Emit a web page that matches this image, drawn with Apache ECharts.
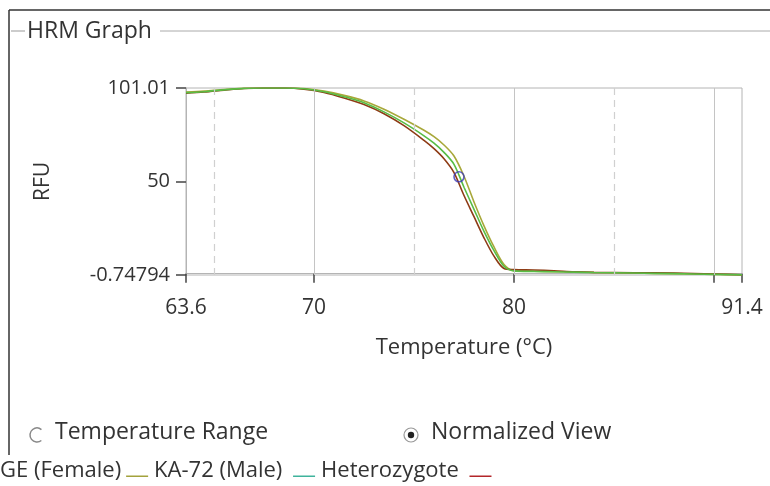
<!DOCTYPE html>
<html>
<head>
<meta charset="utf-8">
<title>HRM Graph</title>
<script src="https://cdn.jsdelivr.net/npm/echarts@6/dist/echarts.min.js"></script>
<style>
  html, body { margin: 0; padding: 0; background: #fff; }
  #chart { width: 770px; height: 486px; }
</style>
</head>
<body>
<div id="chart"></div>
<script>
// temperature (°C) samples shared by all three melt curves
const temps = [63.6, 64.5, 65.5, 66.5, 67.5, 68.5, 69.5, 70.5, 71.5, 72.5, 73.5, 74.5, 75.5, 76, 76.5, 77, 77.5, 78, 78.5, 79, 79.5, 80, 81, 82, 83, 84, 86, 88, 90, 91.4]

// normalized RFU per sample
const geFemale = [98.8, 99.3, 100.2, 100.9, 101.0, 101.0, 100.7, 99.3, 97.0, 94.0, 89.5, 84.0, 78.0, 74.5, 70.0, 64.0, 53, 39, 26, 14.5, 5, 1.6, 1.3, 1.1, 0.9, 0.6, 0.3, 0, -0.4, -0.7]
const ka72Male = [98.5, 99.0, 100.0, 100.8, 101.0, 101.0, 100.6, 99.0, 96.3, 93.0, 88.0, 82.0, 75.0, 71.0, 66.0, 59.5, 47, 35, 23, 12.5, 4, 1.5, 1.2, 1.0, 0.8, 0.6, 0.3, 0, -0.4, -0.7]
const heterozygote = [98.2, 98.8, 99.8, 100.7, 101.0, 101.0, 100.4, 98.6, 95.6, 92.0, 87.0, 80.5, 72.5, 68.0, 62.5, 55.0, 42.5, 31, 19.5, 9.5, 2.8, 2.2, 2.0, 1.6, 1.0, 0.7, 0.5, 0.3, -0.2, -0.7]

// selected point (blue circle)
const cursorPoint = [77.25, 52.7]

// axis ticks / labels
const yTicks = [-0.74794, 50, 101.01]
const xLabels = [63.6, 70, 80, 91.4]
const xTicks = [63.6, 70, 80, 90, 91.4]
const solidGrid = [70, 80, 90]
const dashedGrid = [65, 75, 85]

const THEME = {
  text: '#333', grid: '#c4c4c4', dashed: '#d0d0d0', border: '#b4b4b4',
  ge: '#a8a83a', ka: '#58bd45', het: '#8e3c16',
  geLegend: '#a3a23c', kaLegend: '#3fb39c', hetLegend: '#b3262a',
  font: '"Open Sans", "Noto Sans", sans-serif'
}

// legend icon: a short rule sitting low, like an underscore
const LEGEND_RULE = 'path://M0,0 L22,0 L22,0.001 Z M0,10.5 L22,10.5 L22,12 L0,12 Z'

const zip = (xs, ys) => xs.map((x, i) => [x, ys[i]])

const chart = echarts.init(document.getElementById('chart'), null, { renderer: 'canvas' })

const lineSeries = (name, values, color) => ({
  name,
  type: 'line',
  data: zip(temps, values),
  showSymbol: false,
  smooth: 0.3,
  lineStyle: { color, width: 1.6 },
  itemStyle: { color },
  silent: true,
  z: 3
})

const option = {
  backgroundColor: '#fff',
  animation: false,
  textStyle: { fontFamily: THEME.font },
  title: {
    text: 'HRM Graph',
    left: 27,
    top: 20,
    padding: 0,
    textStyle: { color: THEME.text, fontSize: 23, fontWeight: 'normal', fontFamily: THEME.font }
  },
  graphic: [
    // outer frame
    { type: 'line', shape: { x1: 9, y1: 10, x2: 770, y2: 10 }, style: { stroke: '#333', lineWidth: 1.5 } },
    { type: 'line', shape: { x1: 9, y1: 10, x2: 9, y2: 455 }, style: { stroke: '#333', lineWidth: 1.5 } },
    // group box rule
    { type: 'line', shape: { x1: 11, y1: 31, x2: 25, y2: 31 }, style: { stroke: '#999', lineWidth: 1 } },
    { type: 'line', shape: { x1: 160, y1: 31, x2: 770, y2: 31 }, style: { stroke: '#aaa', lineWidth: 1 } },
    // radio buttons
    { type: 'arc', shape: { cx: 37, cy: 435, r: 7, startAngle: 0.9, endAngle: 5.4 }, style: { stroke: '#888', fill: 'none', lineWidth: 1.5 } },
    { type: 'text', left: 55, top: 421, style: { text: 'Temperature Range', fill: THEME.text, font: '23px ' + THEME.font } },
    { type: 'circle', shape: { cx: 411, cy: 435, r: 7 }, style: { stroke: '#999', fill: '#fff', lineWidth: 1.2 } },
    { type: 'circle', shape: { cx: 411, cy: 435, r: 3.2 }, style: { fill: '#222' } },
    { type: 'text', left: 431, top: 421, style: { text: 'Normalized View', fill: THEME.text, font: '23px ' + THEME.font } }
  ],
  legend: {
    left: 0,
    top: 460,
    padding: 0,
    align: 'right',
    icon: LEGEND_RULE,
    itemWidth: 22,
    itemHeight: 12,
    itemGap: 6,
    selectedMode: false,
    textStyle: { color: THEME.text, fontSize: 22, lineHeight: 22, fontFamily: THEME.font },
    data: [
      { name: 'GE (Female)', itemStyle: { color: THEME.geLegend } },
      { name: 'KA-72 (Male) ', itemStyle: { color: THEME.kaLegend } },
      { name: 'Heterozygote ', itemStyle: { color: THEME.hetLegend } }
    ]
  },
  grid: {
    left: 186, right: 28, top: 88, bottom: 211,
    show: true, borderColor: THEME.border, borderWidth: 1, backgroundColor: '#fff'
  },
  xAxis: {
    type: 'value',
    min: 63.6,
    max: 91.4,
    name: 'Temperature (°C)',
    nameLocation: 'middle',
    nameGap: 62,
    nameTextStyle: { color: THEME.text, fontSize: 22, fontFamily: THEME.font },
    axisLine: { lineStyle: { color: THEME.border } },
    axisTick: { show: true, length: 9, customValues: xTicks, lineStyle: { color: '#444', width: 1.5 } },
    axisLabel: { customValues: xLabels, margin: 23, color: THEME.text, fontSize: 21, fontFamily: THEME.font, formatter: v => String(v) },
    splitLine: { show: false }
  },
  yAxis: {
    type: 'value',
    min: -0.74794,
    max: 101.01,
    name: 'RFU',
    nameLocation: 'middle',
    nameGap: 132,
    nameTextStyle: { color: THEME.text, fontSize: 21, fontFamily: THEME.font },
    axisLine: { show: true, lineStyle: { color: THEME.border } },
    axisTick: { show: true, length: 10, customValues: yTicks, lineStyle: { color: '#444', width: 1.5 } },
    axisLabel: { customValues: yTicks, margin: 16, color: THEME.text, fontSize: 20, fontFamily: THEME.font, formatter: v => String(v) },
    splitLine: { show: false }
  },
  series: [
    {
      name: 'grid',
      type: 'line',
      data: [],
      silent: true,
      z: 1,
      markLine: {
        silent: true,
        symbol: 'none',
        label: { show: false },
        data: [
          ...solidGrid.map(x => ({ xAxis: x, lineStyle: { color: THEME.grid, type: 'solid', width: 1 } })),
          ...dashedGrid.map(x => ({ xAxis: x, lineStyle: { color: THEME.dashed, type: [7, 5], width: 1.2 } }))
        ]
      }
    },
    lineSeries('GE (Female)', geFemale, THEME.ge),
    lineSeries('Heterozygote ', heterozygote, THEME.het),
    lineSeries('KA-72 (Male) ', ka72Male, THEME.ka),
    {
      name: 'cursor',
      type: 'scatter',
      data: [cursorPoint],
      symbol: 'circle',
      symbolSize: 10,
      silent: true,
      itemStyle: { color: 'rgba(0,0,0,0)', borderColor: '#3a3ab8', borderWidth: 1.6 },
      z: 5
    }
  ]
}

chart.setOption(option)

window.addEventListener('resize', () => chart.resize())
</script>
</body>
</html>
